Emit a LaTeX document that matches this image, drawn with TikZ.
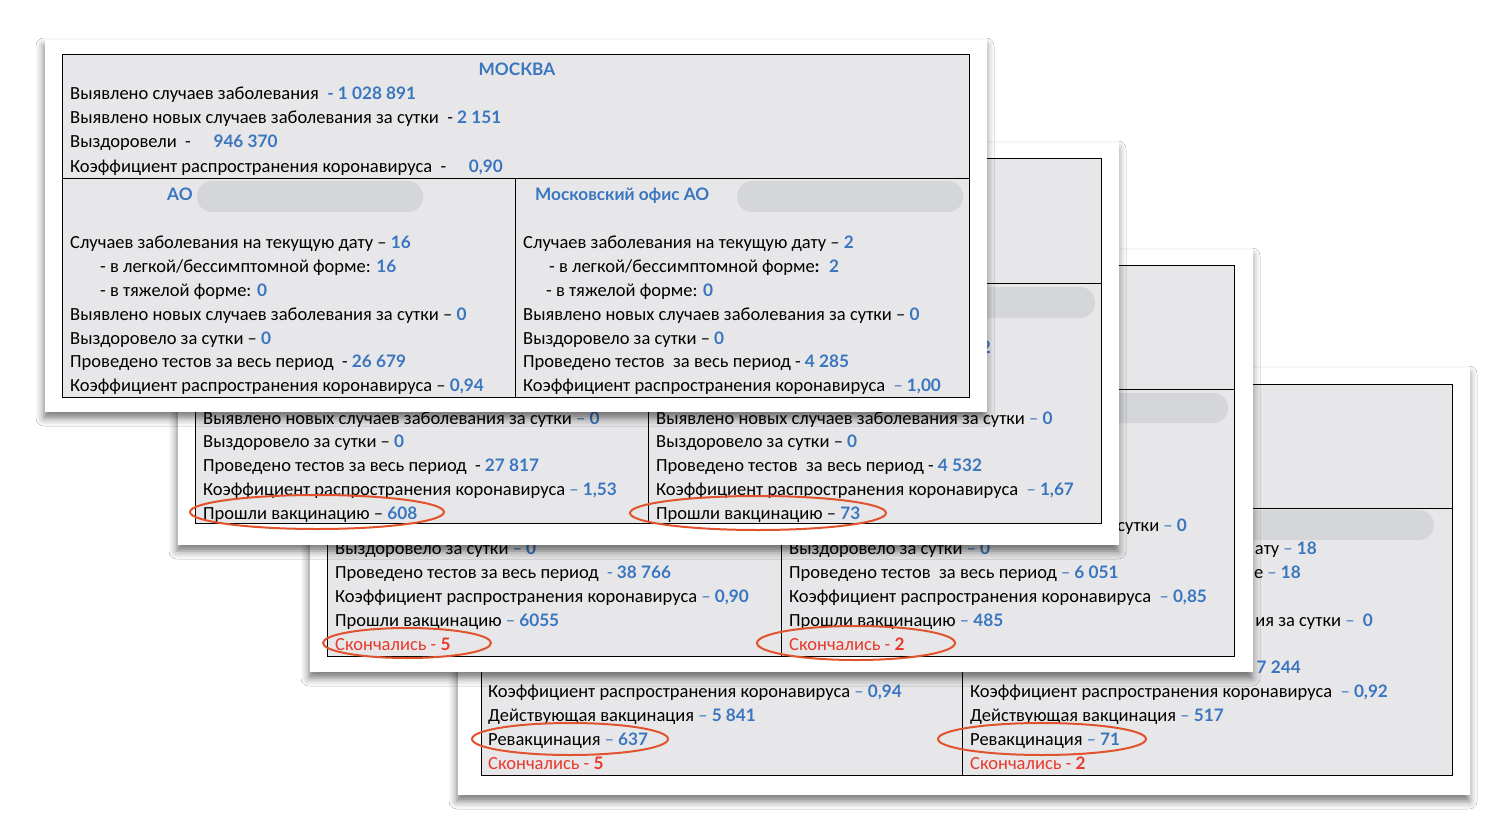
\documentclass[tikz,border=0pt]{standalone}
\usepackage{fontspec}
\setmainfont{Carlito}
\newfontfamily\latof{Lato}[Scale=0.93]
\newcommand\bnum{\latof\bfseries}
\usetikzlibrary{shadows,shadows.blur}
\definecolor{tblue}{HTML}{3A76C0}
\definecolor{tred}{HTML}{E8392C}
\definecolor{ell}{HTML}{E0532E}
\definecolor{tgray}{HTML}{E7E7E9}
\definecolor{pillc}{HTML}{D5D6D8}
\newcommand\vb[1]{{\color{tblue}\bnum #1}}
\newcommand\rb[1]{{\bnum #1}}
\newcommand\vd{{\color{tblue}–}}
\tikzset{
 cardbox/.style={fill=white, blur shadow={shadow xshift=-1pt, shadow yshift=-6pt, shadow blur radius=8pt, shadow opacity=55}},
 tbl/.style={fill=tgray, draw=black, line width=0.9pt},
 sepline/.style={draw=black, line width=0.9pt},
 txt/.style={anchor=base west, inner sep=0pt, font=\fontsize{18.5}{22}\selectfont},
 frag/.style={txt, anchor=base east},
 rtxt/.style={txt, text=tred},
 ttl/.style={anchor=base west, inner sep=0pt, font=\fontsize{18.5}{22}\selectfont\bnum, text=tblue},
 pillbox/.style={fill=pillc, rounded corners=15pt},
 ring/.style={draw=ell, line width=2pt},
}
\begin{document}
\begin{tikzpicture}[x=1pt,y=-1pt]
\useasboundingbox (0,0) rectangle (1510,840);
\fill[white] (0,0) rectangle (1510,840);

% ---------------- card 4 (back)
\fill[cardbox] (458,368) rectangle (1470,795);
\draw[tbl] (481,384) rectangle (1452,775);
\draw[sepline] (481,508) -- (1452,508);
\draw[sepline] (962,508) -- (962,775);
\fill[pillbox] (1207,510) rectangle (1434,540);
\node[frag] (d4r1) at (1317,554) {ату \vd{} \vb{18}};
\node[frag] (d4r2) at (1301,578) {е \vd{} \vb{18}};
\node[frag] (d4r4) at (1373,626) {ия за сутки \vd{}\ \ \vb{0}};
\node[frag] (d4r6) at (1301,673) {\vb{7 244}};
\node[txt] (d4r7) at (970,697) {Коэффициент распространения коронавируса \ \vd{} \vb{0,92}};
\node[txt] (d4r8) at (970,721) {Действующая вакцинация \vd{} \vb{517}};
\node[txt] (d4r9) at (970,745) {Ревакцинация \vd{} \vb{71}};
\node[rtxt] (d4r10) at (970,769) {Скончались - \rb{2}};
\node[txt] (d4l7) at (488,697) {Коэффициент распространения коронавируса \vd{} \vb{0,94}};
\node[txt] (d4l8) at (488,721) {Действующая вакцинация \vd{} \vb{5 841}};
\node[txt] (d4l9) at (488,745) {Ревакцинация \vd{} \vb{637}};
\node[rtxt] (d4l10) at (488,769) {Скончались - \rb{5}};
\draw[ring] (570,739) ellipse [x radius=98, y radius=16];
\draw[ring] (1042,739) ellipse [x radius=104, y radius=16];

% ---------------- card 3
\fill[cardbox] (310,250) rectangle (1253,672);
\draw[tbl] (327,265) rectangle (1234,656);
\draw[sepline] (327,389) -- (1234,389);
\draw[sepline] (781,389) -- (781,656);
\fill[pillbox] (1001,393) rectangle (1228,423);
\node[frag] (c3r4) at (1187,531) {сутки \vd{} \vb{0}};
\node[txt] (c3r5) at (789,554) {Выздоровело за сутки \vd{} \vb{0}};
\node[txt] (c3r6) at (789,578) {Проведено тестов \ за весь период \vd{} \vb{6 051}};
\node[txt] (c3r7) at (789,602) {Коэффициент распространения коронавируса \ \vd{} \vb{0,85}};
\node[txt] (c3r8) at (789,626) {Прошли вакцинацию \vd{} \vb{485}};
\node[rtxt] (c3r9) at (789,650) {Скончались - \rb{2}};
\node[txt] (c3l5) at (335,554) {Выздоровело за сутки \vd{} \vb{0}};
\node[txt] (c3l6) at (335,578) {Проведено тестов за весь период \ {\color{tblue}-} \vb{38 766}};
\node[txt] (c3l7) at (335,602) {Коэффициент распространения коронавируса \vd{} \vb{0,90}};
\node[txt] (c3l8) at (335,626) {Прошли вакцинацию \vd{} \vb{6055}};
\node[rtxt] (c3l9) at (335,650) {Скончались - \rb{5}};
\draw[ring] (407,643) ellipse [x radius=84, y radius=15];
\draw[ring] (856,643) ellipse [x radius=99, y radius=17];

% ---------------- card 2
\fill[cardbox] (178,143) rectangle (1119,545);
\draw[tbl] (195,158) rectangle (1101,523);
\draw[sepline] (195,283) -- (1101,283);
\draw[sepline] (648,283) -- (648,523);
\fill[pillbox] (868,287) rectangle (1095,318);
\node[frag] (b2r1) at (991,353) {\vb{2}};
\node[txt] (b2r4) at (656,424) {Выявлено новых случаев заболевания за сутки \vd{} \vb{0}};
\node[txt] (b2r5) at (656,447) {Выздоровело за сутки – \vb{0}};
\node[txt] (b2r6) at (656,471) {Проведено тестов \ за весь период - \vb{4 532}};
\node[txt] (b2r7) at (656,495) {Коэффициент распространения коронавируса \ \vd{} \vb{1,67}};
\node[txt] (b2r8) at (656,519) {Прошли вакцинацию – \vb{73}};
\node[txt] (b2l4) at (203,424) {Выявлено новых случаев заболевания за сутки \vd{} \vb{0}};
\node[txt] (b2l5) at (203,447) {Выздоровело за сутки – \vb{0}};
\node[txt] (b2l6) at (203,471) {Проведено тестов за весь период \ - \vb{27 817}};
\node[txt] (b2l7) at (203,495) {Коэффициент распространения коронавируса \vd{} \vb{1,53}};
\node[txt] (b2l8) at (203,519) {Прошли вакцинацию – \vb{608}};
\draw[ring] (317,512) ellipse [x radius=127, y radius=17];
\draw[ring] (758,513) ellipse [x radius=128, y radius=17];

% ---------------- card 1 (front)
\fill[cardbox] (45,40) rectangle (987,412);
\draw[tbl] (62,54) rectangle (969,397);
\draw[sepline] (62,178) -- (969,178);
\draw[sepline] (515,178) -- (515,397);
\node[ttl, anchor=base] (a1t) at (517,76) {МОСКВА};
\node[txt] (a1h1) at (70,100) {Выявлено случаев заболевания \ \vb{- 1 028 891}};
\node[txt] (a1h2) at (70,124) {Выявлено новых случаев заболевания за сутки \ - \vb{2 151}};
\node[txt] (a1h3) at (70,148) {Выздоровели \ - \quad \vb{946 370}};
\node[txt] (a1h4) at (70,172) {Коэффициент распространения коронавируса \ - \quad\vb{0,90}};
\node[ttl] (a1lt) at (167,200) {АО};
\fill[pillbox] (197,181) rectangle (423,212);
\node[ttl] (a1rt) at (535,200) {Московский офис АО};
\fill[pillbox] (737,181) rectangle (963,212);
\node[txt] (a1l1) at (70,248) {Случаев заболевания на текущую дату – \vb{16}};
\node[txt] (a1l2) at (100,272) {- в легкой/бессимптомной форме: \vb{16}};
\node[txt] (a1l3) at (100,296) {- в тяжелой форме: \vb{0}};
\node[txt] (a1l4) at (70,320) {Выявлено новых случаев заболевания за сутки – \vb{0}};
\node[txt] (a1l5) at (70,344) {Выздоровело за сутки – \vb{0}};
\node[txt] (a1l6) at (70,367) {Проведено тестов за весь период \ - \vb{26 679}};
\node[txt] (a1l7) at (70,391) {Коэффициент распространения коронавируса – \vb{0,94}};
\node[txt] (a1r1) at (523,248) {Случаев заболевания на текущую дату – \vb{2}};
\node[txt] (a1r2) at (549,272) {- в легкой/бессимптомной форме\rb{:} \ \vb{2}};
\node[txt] (a1r3) at (546,296) {- в тяжелой форме: \vb{0}};
\node[txt] (a1r4) at (523,320) {Выявлено новых случаев заболевания за сутки – \vb{0}};
\node[txt] (a1r5) at (523,344) {Выздоровело за сутки – \vb{0}};
\node[txt] (a1r6) at (523,367) {Проведено тестов \ за весь период - \vb{4 285}};
\node[txt] (a1r7) at (523,391) {Коэффициент распространения коронавируса \ {\color{tblue}– \bnum 1,00}};
\end{tikzpicture}
\end{document}
